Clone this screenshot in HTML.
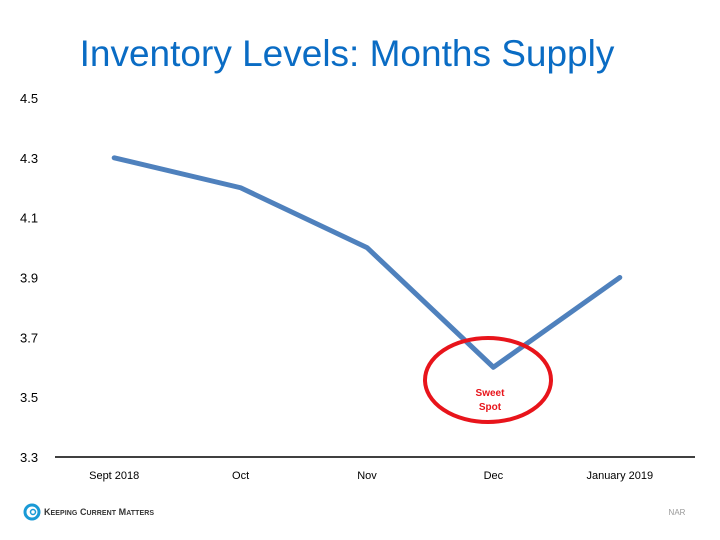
<!DOCTYPE html>
<html><head><meta charset="utf-8">
<style>
body{margin:0;background:#fff;}
svg{display:block;font-family:"Liberation Sans",Arial,sans-serif;}
</style></head>
<body>
<svg id="c" width="720" height="540" viewBox="0 0 720 540">
<text x="347" y="66" text-anchor="middle" font-size="37" fill="#0a6cc4">Inventory Levels: Months Supply</text>
<g id="yaxis"></g>
<g id="xaxis"></g>
<line x1="55" y1="457" x2="695" y2="457" stroke="#000" stroke-width="1.5"/>
<g id="series"></g>
<ellipse cx="488" cy="380" rx="63" ry="42" fill="none" stroke="#e8141b" stroke-width="4"/>
<text x="490" y="396" text-anchor="middle" font-size="10" font-weight="bold" fill="#e8141b">Sweet</text>
<text x="490" y="410" text-anchor="middle" font-size="10" font-weight="bold" fill="#e8141b">Spot</text>
<g>
<circle cx="32" cy="512" r="7" fill="none" stroke="#1a9ad6" stroke-width="3"/>
<circle cx="33" cy="512" r="2.5" fill="none" stroke="#1a9ad6" stroke-width="1.5"/>
<text x="44" y="515" font-size="9" font-weight="bold" fill="#333" textLength="110">K<tspan font-size="7">EEPING</tspan> C<tspan font-size="7">URRENT</tspan> M<tspan font-size="7">ATTERS</tspan></text>
</g>
<text x="677" y="515" text-anchor="middle" font-size="8" fill="#999">NAR</text>
</svg>
<script>
const categories=["Sept 2018","Oct","Nov","Dec","January 2019"];
const values=[4.3,4.2,4.0,3.6,3.9];
const yTicks=[3.3,3.5,3.7,3.9,4.1,4.3,4.5];
const NS="http://www.w3.org/2000/svg";
function y(v){return 457-(v-3.3)/1.2*359;}
function x(i){return 51+126.4*(i+0.5);}
const ya=document.getElementById('yaxis'),xa=document.getElementById('xaxis'),s=document.getElementById('series');
yTicks.forEach(t=>{const e=document.createElementNS(NS,'text');


e.setAttribute('x',20);e.setAttribute('y',y(t)+5);e.setAttribute('font-size','13');e.textContent=t.toFixed(1);ya.appendChild(e);});
categories.forEach((c,i)=>{const e=document.createElementNS(NS,'text');


e.setAttribute('x',x(i));e.setAttribute('y',479);e.setAttribute('font-size','11');e.setAttribute('text-anchor','middle');e.textContent=c;xa.appendChild(e);});
const p=document.createElementNS(NS,'polyline');


p.setAttribute('points',values.map((v,i)=>x(i)+','+y(v)).join(' '));
p.setAttribute('fill','none');p.setAttribute('stroke','#4f81bd');p.setAttribute('stroke-width','5');p.setAttribute('stroke-linecap','round');p.setAttribute('stroke-linejoin','round');
s.appendChild(p);
</script>
</body></html>
